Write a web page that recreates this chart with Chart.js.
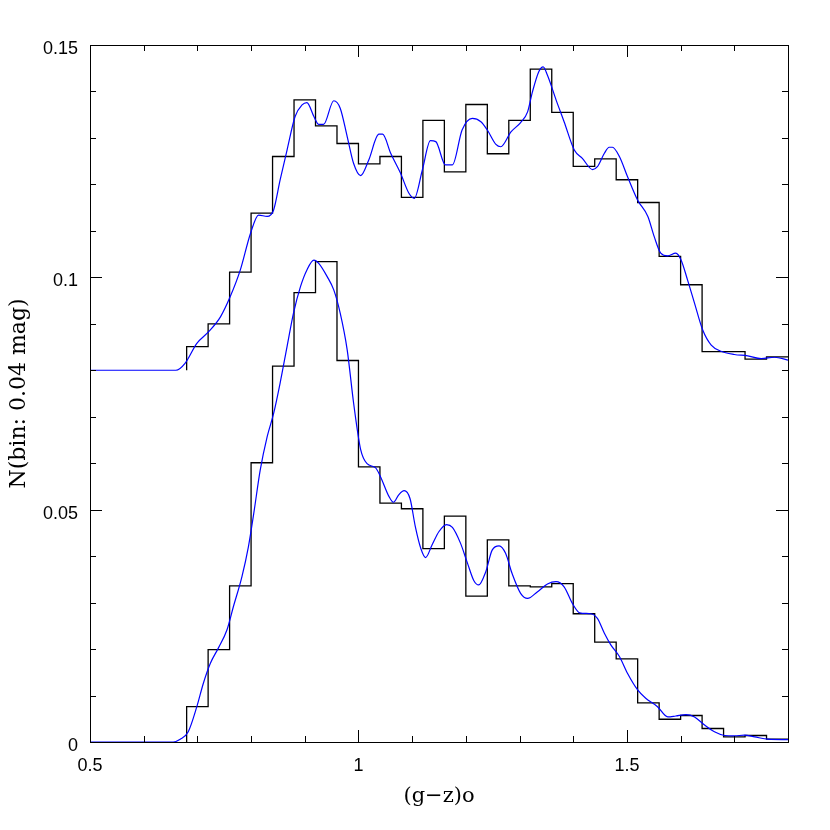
<!DOCTYPE html>
<html><head><meta charset="utf-8">
<script src="https://cdn.jsdelivr.net/npm/chart.js@4/dist/chart.umd.min.js"></script>
<style>html,body{margin:0;padding:0;background:#fff;} canvas{display:block;}</style>
</head><body>
<canvas id="c" width="830" height="830"></canvas>
<script>
// ---- data ----
const binEdges = [0.68,0.72,0.76,0.80,0.84,0.88,0.92,0.96,1.00,1.04,1.08,1.12,1.16,1.20,1.24,1.28,1.32,1.36,1.40,1.44,1.48,1.52,1.56,1.60,1.64,1.68,1.72,1.76];
const binWidth = 0.04;
const upperBase = 0.08;
const upperHist = [0.0851,0.0900,0.1011,0.1138,0.1260,0.1382,0.1326,0.1288,0.1244,0.1260,0.1172,0.1338,0.1227,0.1372,0.1266,0.1338,0.1448,0.1355,0.1239,0.1255,0.1210,0.1161,0.1045,0.0984,0.0840,0.0840,0.0824,0.0829];
const lowerBase = 0;
const lowerHist = [0.0076,0.0199,0.0336,0.0601,0.0809,0.0967,0.1034,0.0821,0.0592,0.0514,0.0502,0.0416,0.0486,0.0314,0.0435,0.0336,0.0334,0.0341,0.0276,0.0215,0.0179,0.0084,0.0049,0.0057,0.0029,0.0011,0.0014,0.0006];

const upperCurveX = [0.50,0.66,0.677,0.699,0.721,0.743,0.761,0.780,0.799,0.814,0.830,0.842,0.854,0.867,0.882,0.895,0.904,0.917,0.926,0.935,0.954,0.966,0.979,0.991,1.004,1.019,1.038,1.045,1.060,1.078,1.094,1.104,1.119,1.134,1.144,1.162,1.175,1.193,1.212,1.228,1.240,1.256,1.265,1.284,1.302,1.315,1.324,1.336,1.344,1.352,1.368,1.383,1.402,1.417,1.436,1.445,1.458,1.467,1.473,1.486,1.501,1.520,1.539,1.551,1.563,1.576,1.591,1.601,1.613,1.626,1.641,1.657,1.675,1.700,1.725,1.750,1.775,1.800];
const upperCurveY = [0.0800,0.0800,0.0815,0.0858,0.0883,0.0915,0.0958,0.1016,0.1095,0.1134,0.1131,0.1145,0.1209,0.1274,0.1346,0.1371,0.1376,0.1346,0.1329,0.1329,0.1380,0.1364,0.1303,0.1245,0.1219,0.1252,0.1308,0.1308,0.1267,0.1225,0.1181,0.1170,0.1231,0.1294,0.1292,0.1242,0.1242,0.1317,0.1342,0.1335,0.1317,0.1286,0.1281,0.1313,0.1333,0.1356,0.1399,0.1443,0.1453,0.1435,0.1382,0.1335,0.1274,0.1256,0.1232,0.1238,0.1267,0.1280,0.1280,0.1260,0.1217,0.1166,0.1131,0.1087,0.1052,0.1046,0.1052,0.1037,0.0994,0.0944,0.0887,0.0854,0.0841,0.0834,0.0831,0.0825,0.0828,0.0822];

const lowerCurveX = [0.50,0.655,0.668,0.683,0.699,0.711,0.724,0.739,0.755,0.767,0.783,0.795,0.805,0.817,0.830,0.842,0.854,0.867,0.879,0.892,0.904,0.917,0.926,0.942,0.954,0.966,0.979,0.991,1.004,1.016,1.032,1.041,1.057,1.065,1.075,1.085,1.096,1.106,1.116,1.125,1.137,1.150,1.164,1.175,1.190,1.203,1.215,1.224,1.237,1.249,1.262,1.274,1.286,1.302,1.315,1.333,1.352,1.368,1.383,1.399,1.412,1.433,1.445,1.458,1.470,1.486,1.501,1.520,1.535,1.557,1.576,1.591,1.610,1.626,1.644,1.663,1.682,1.700,1.719,1.738,1.763,1.800];
const lowerCurveY = [0.0000,0.0000,0.0006,0.0022,0.0076,0.0126,0.0169,0.0202,0.0241,0.0291,0.0356,0.0420,0.0492,0.0585,0.0657,0.0707,0.0772,0.0851,0.0923,0.0980,0.1016,0.1037,0.1030,0.1001,0.0973,0.0923,0.0844,0.0729,0.0630,0.0599,0.0590,0.0571,0.0528,0.0516,0.0532,0.0541,0.0524,0.0463,0.0417,0.0397,0.0424,0.0453,0.0468,0.0462,0.0428,0.0385,0.0347,0.0338,0.0366,0.0413,0.0422,0.0406,0.0363,0.0320,0.0309,0.0323,0.0340,0.0345,0.0334,0.0297,0.0278,0.0276,0.0266,0.0234,0.0209,0.0184,0.0148,0.0112,0.0094,0.0076,0.0054,0.0056,0.0059,0.0054,0.0037,0.0022,0.0014,0.0013,0.0015,0.0011,0.0006,0.0005];

const xTicks = [0.5,0.6,0.7,0.8,0.9,1.0,1.1,1.2,1.3,1.4,1.5,1.6,1.7,1.8];
const xMajorTicks = [0.5,1.0,1.5];
const xTickLabels = ['0.5','1','1.5'];
const yTicks = [0,0.01,0.02,0.03,0.04,0.05,0.06,0.07,0.08,0.09,0.10,0.11,0.12,0.13,0.14,0.15];
const yMajorTicks = [0,0.05,0.10,0.15];
const yTickLabels = ['0','0.05','0.1','0.15'];

const xTitle = '(g\u2212z)o';
const yTitle = 'N(bin: 0.04 mag)';

// ---- helpers ----
function stepPoints(edges, vals, base, width) {
  const pts = [{x: edges[0], y: base}];
  edges.forEach((e, i) => pts.push({x: e, y: vals[i]}));
  pts.push({x: edges[edges.length - 1] + width, y: vals[vals.length - 1]});
  return pts;
}
function zipXY(xs, ys) { return xs.map((x, i) => ({x: x, y: ys[i]})); }
function majorIndex(v, list) { return list.findIndex(m => Math.abs(m - v) < 1e-9); }

const frameTicks = {
  id: 'frameTicks',
  afterDraw(chart) {
    const {ctx, chartArea: {left, right, top, bottom}, scales: {x, y}} = chart;
    ctx.save();
    ctx.strokeStyle = '#000';
    ctx.lineWidth = 1;
    ctx.beginPath();
    x.ticks.forEach(t => {
      const px = Math.round(x.getPixelForValue(t.value)) + 0.5;
      const len = majorIndex(t.value, xMajorTicks) >= 0 ? 12 : 6;
      ctx.moveTo(px, bottom); ctx.lineTo(px, bottom - len);
      ctx.moveTo(px, top); ctx.lineTo(px, top + len);
    });
    y.ticks.forEach(t => {
      const py = Math.round(y.getPixelForValue(t.value)) + 0.5;
      const len = majorIndex(t.value, yMajorTicks) >= 0 ? 12 : 6;
      ctx.moveTo(left, py); ctx.lineTo(left + len, py);
      ctx.moveTo(right, py); ctx.lineTo(right - len, py);
    });
    ctx.stroke();
    ctx.strokeRect(Math.round(left) + 0.5, Math.round(top) + 0.5, Math.round(right - left), Math.round(bottom - top));
    ctx.restore();
  }
};

const tickFont = {family: '"Liberation Sans", Arial, sans-serif', size: 18};
const titleFont = {family: '"DejaVu Serif", serif', size: 21};

new Chart(document.getElementById('c'), {
  type: 'line',
  data: {
    datasets: [
      {data: zipXY(upperCurveX, upperCurveY), borderColor: '#0000ff', borderWidth: 1.2, pointRadius: 0, cubicInterpolationMode: 'monotone', fill: false},
      {data: zipXY(lowerCurveX, lowerCurveY), borderColor: '#0000ff', borderWidth: 1.2, pointRadius: 0, cubicInterpolationMode: 'monotone', fill: false},
      {data: stepPoints(binEdges, upperHist, upperBase, binWidth), borderColor: '#000', borderWidth: 1.3, pointRadius: 0, stepped: true, fill: false},
      {data: stepPoints(binEdges, lowerHist, lowerBase, binWidth), borderColor: '#000', borderWidth: 1.3, pointRadius: 0, stepped: true, fill: false}
    ]
  },
  options: {
    responsive: false,
    animation: false,
    devicePixelRatio: 1,
    layout: {padding: {left: 0, top: 45, right: 42, bottom: 0}},
    plugins: {legend: {display: false}, tooltip: {enabled: false}},
    scales: {
      x: {
        type: 'linear', min: 0.5, max: 1.8,
        afterBuildTicks: s => { s.ticks = xTicks.map(v => ({value: v})); },
        afterFit: s => { s.height = 88; },
        grid: {display: false, drawTicks: false},
        border: {display: false},
        ticks: {autoSkip: false, maxRotation: 0, padding: 13, color: '#000', font: tickFont,
          callback: v => { const i = majorIndex(v, xMajorTicks); return i >= 0 ? xTickLabels[i] : ''; }},
        title: {display: true, text: xTitle, color: '#000', font: titleFont, padding: {top: 0, bottom: 21}}
      },
      y: {
        type: 'linear', min: 0, max: 0.15,
        afterBuildTicks: s => { s.ticks = yTicks.map(v => ({value: v})); },
        afterFit: s => { s.width = 90; },
        grid: {display: false, drawTicks: false},
        border: {display: false},
        ticks: {autoSkip: false, padding: 12, labelOffset: 4, color: '#000', font: tickFont,
          callback: v => { const i = majorIndex(v, yMajorTicks); return i >= 0 ? yTickLabels[i] : ''; }},
        title: {display: true, text: yTitle, color: '#000', font: {family: '"DejaVu Serif", serif', size: 22}, padding: {top: 6, bottom: 0}}
      }
    }
  },
  plugins: [frameTicks]
});
</script>
</body></html>
